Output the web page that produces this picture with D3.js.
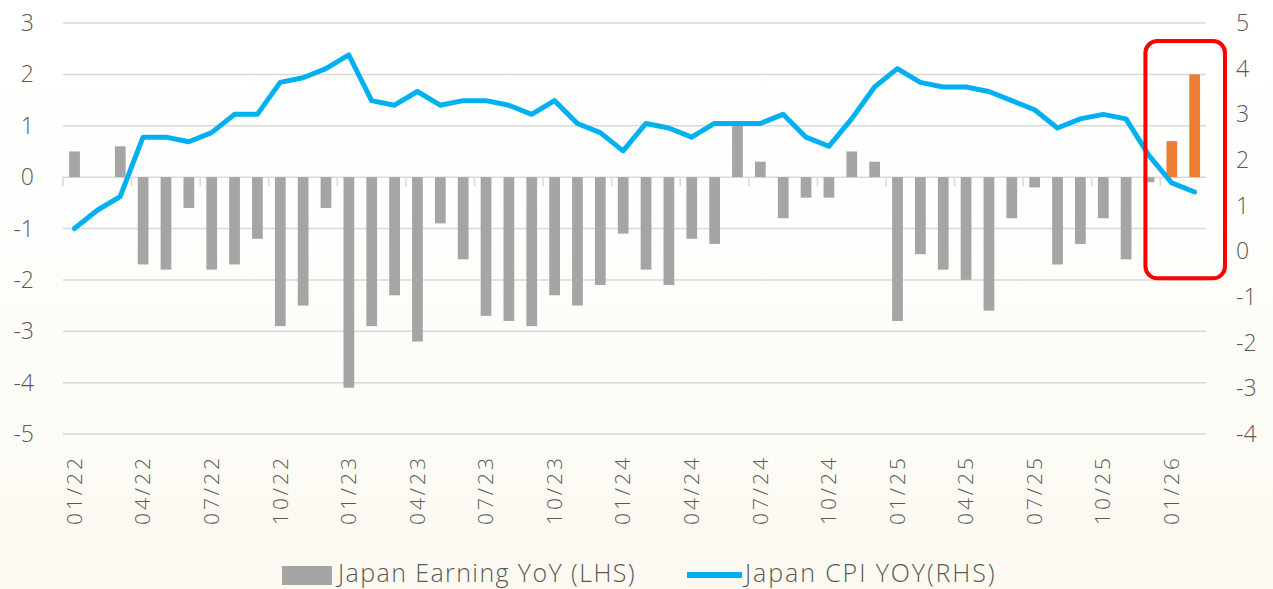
<!DOCTYPE html>
<html>
<head>
<meta charset="utf-8">
<script src="https://cdn.jsdelivr.net/npm/d3@7"></script>
<style>
	html, body { margin: 0; padding: 0; background: #ffffff; }
	#chartDiv { width: 1273px; height: 589px; }
	text { font-family: "Open Sans", "Liberation Sans", sans-serif; font-weight: 300; fill: #595959; }
</style>
</head>
<body>
<div id="chartDiv"></div>
<script>
// monthly categories, 01/22 .. 02/26
var months = [
	"01/22","02/22","03/22","04/22","05/22","06/22","07/22","08/22","09/22","10/22","11/22","12/22",
	"01/23","02/23","03/23","04/23","05/23","06/23","07/23","08/23","09/23","10/23","11/23","12/23",
	"01/24","02/24","03/24","04/24","05/24","06/24","07/24","08/24","09/24","10/24","11/24","12/24",
	"01/25","02/25","03/25","04/25","05/25","06/25","07/25","08/25","09/25","10/25","11/25","12/25",
	"01/26","02/26"
];

// Japan Earning YoY (LHS)
var earningYoY = [
	0.5, 0, 0.6, -1.7, -1.8, -0.6, -1.8, -1.7, -1.2, -2.9, -2.5, -0.6,
	-4.1, -2.9, -2.3, -3.2, -0.9, -1.6, -2.7, -2.8, -2.9, -2.3, -2.5, -2.1,
	-1.1, -1.8, -2.1, -1.2, -1.3, 1.0, 0.3, -0.8, -0.4, -0.4, 0.5, 0.3,
	-2.8, -1.5, -1.8, -2.0, -2.6, -0.8, -0.2, -1.7, -1.3, -0.8, -1.6, -0.1,
	0.7, 2.0
];

// Japan CPI YOY (RHS)
var cpiYoY = [
	0.5, 0.9, 1.2, 2.5, 2.5, 2.4, 2.6, 3.0, 3.0, 3.7, 3.8, 4.0,
	4.3, 3.3, 3.2, 3.5, 3.2, 3.3, 3.3, 3.2, 3.0, 3.3, 2.8, 2.6,
	2.2, 2.8, 2.7, 2.5, 2.8, 2.8, 2.8, 3.0, 2.5, 2.3, 2.9, 3.6,
	4.0, 3.7, 3.6, 3.6, 3.5, 3.3, 3.1, 2.7, 2.9, 3.0, 2.9, 2.1,
	1.5, 1.3
];

// latest prints, highlighted in orange and boxed
var highlightMonths = ["01/26", "02/26"];
var boxMonths = ["12/25", "02/26"];
var boxRange = [2.65, -1.97];

var xTickLabels = ["01/22","04/22","07/22","10/22","01/23","04/23","07/23","10/23",
	"01/24","04/24","07/24","10/24","01/25","04/25","07/25","10/25","01/26"];
var leftTicks = [3, 2, 1, 0, -1, -2, -3, -4, -5];
var rightTicks = [5, 4, 3, 2, 1, 0, -1, -2, -3, -4];

;(function() {

	var width = 1273;
	var height = 589;
	var margin = { top: 23, right: 67, bottom: 155, left: 63 };

	var grey = "#a5a5a5";
	var orange = "#ed7d31";
	var blue = "#00b0f0";
	var gridColor = "#d9d9d9";

	var chart, xScale, yLeft, yRight;

	init();

	function init() {
		chart = d3.select("#chartDiv").append("svg")
			.attr("width", width)
			.attr("height", height);

		drawBackground();
		createScales();
		drawGrid();
		drawBars();
		drawLine();
		drawBox();
		drawAxisLabels();
		drawLegend();
	}

	function drawBackground() {
		var grad = chart.append("defs").append("linearGradient")
			.attr("id", "bg").attr("x1", 0).attr("y1", 0).attr("x2", 0).attr("y2", 1);
		grad.append("stop").attr("offset", "0%").attr("stop-color", "#ffffff");
		grad.append("stop").attr("offset", "35%").attr("stop-color", "#fefefc");
		grad.append("stop").attr("offset", "100%").attr("stop-color", "#fcf9f1");
		chart.append("rect")
			.attr("width", width).attr("height", height)
			.attr("fill", "url(#bg)");
	}

	function createScales() {
		xScale = d3.scaleBand()
			.domain(months)
			.range([margin.left, width - margin.right])
			.padding(0);

		yLeft = d3.scaleLinear()
			.domain([-5, 3])
			.range([height - margin.bottom, margin.top]);

		yRight = d3.scaleLinear()
			.domain([-4, 5])
			.range([height - margin.bottom, margin.top]);
	}

	function drawGrid() {
		chart.append("g").selectAll("line")
			.data(leftTicks)
			.enter().append("line")
				.attr("x1", margin.left)
				.attr("x2", width - margin.right)
				.attr("y1", function(d) { return yLeft(d); })
				.attr("y2", function(d) { return yLeft(d); })
				.style("stroke", gridColor)
				.style("stroke-width", 1.5);

		// small ticks hanging under the zero line, one per quarter
		var quarterStarts = months.filter(function(m, i) { return i % 3 === 0; });
		chart.append("g").selectAll("line")
			.data(quarterStarts)
			.enter().append("line")
				.attr("x1", function(d) { return xScale(d); })
				.attr("x2", function(d) { return xScale(d); })
				.attr("y1", yLeft(0))
				.attr("y2", yLeft(0) + 9)
				.style("stroke", gridColor)
				.style("stroke-width", 1.5);
	}

	function drawBars() {
		var bw = xScale.bandwidth();
		chart.append("g").selectAll("rect")
			.data(earningYoY)
			.enter().append("rect")
				.attr("x", function(d, i) { return xScale(months[i]) + bw * 0.27; })
				.attr("width", bw * 0.47)
				.attr("y", function(d) { return yLeft(Math.max(0, d)); })
				.attr("height", function(d) { return Math.abs(yLeft(d) - yLeft(0)); })
				.style("fill", function(d, i) {
					return highlightMonths.indexOf(months[i]) >= 0 ? orange : grey;
				});
	}

	function drawLine() {
		var line = d3.line()
			.x(function(d, i) { return xScale(months[i]) + xScale.bandwidth() / 2; })
			.y(function(d) { return yRight(d); });

		chart.append("path")
			.datum(cpiYoY)
			.attr("d", line)
			.style("fill", "none")
			.style("stroke", blue)
			.style("stroke-width", 5)
			.style("stroke-linejoin", "round")
			.style("stroke-linecap", "round");
	}

	function drawBox() {
		var bw = xScale.bandwidth();
		var x0 = xScale(boxMonths[0]) + bw * 0.35;
		var x1 = xScale(boxMonths[1]) + bw + 19;
		chart.append("rect")
			.attr("x", x0)
			.attr("y", yLeft(boxRange[0]))
			.attr("width", x1 - x0)
			.attr("height", yLeft(boxRange[1]) - yLeft(boxRange[0]))
			.attr("rx", 12)
			.style("fill", "none")
			.style("stroke", "#ff0000")
			.style("stroke-width", 4);
	}

	function drawAxisLabels() {
		chart.append("g").selectAll("text")
			.data(leftTicks)
			.enter().append("text")
				.attr("x", 34)
				.attr("y", function(d) { return yLeft(d); })
				.attr("dy", "0.35em")
				.attr("text-anchor", "end")
				.style("font-size", "23px")
				.text(function(d) { return d; });

		chart.append("g").selectAll("text")
			.data(rightTicks)
			.enter().append("text")
				.attr("x", 1236)
				.attr("y", function(d) { return yRight(d); })
				.attr("dy", "0.35em")
				.attr("text-anchor", "start")
				.style("font-size", "23px")
				.text(function(d) { return d; });

		chart.append("g").selectAll("text")
			.data(xTickLabels)
			.enter().append("text")
				.attr("text-anchor", "end")
				.attr("dy", "0.35em")
				.attr("transform", function(d) {
					return "translate(" + (xScale(d) + xScale.bandwidth() / 2) + ",455) rotate(-90)";
				})
				.style("font-size", "21px")
				.style("letter-spacing", "3px")
				.text(function(d) { return d; });
	}

	function drawLegend() {
		var g = chart.append("g");
		g.append("rect")
			.attr("x", 282).attr("y", 566)
			.attr("width", 50).attr("height", 19)
			.style("fill", grey);
		g.append("text")
			.attr("x", 338).attr("y", 582)
			.style("font-size", "25px")
			.style("letter-spacing", "1.4px")
			.text("Japan Earning YoY (LHS)");

		g.append("line")
			.attr("x1", 687).attr("x2", 742)
			.attr("y1", 575).attr("y2", 575)
			.style("stroke", blue)
			.style("stroke-width", 6);
		g.append("text")
			.attr("x", 745).attr("y", 582)
			.style("font-size", "25px")
			.style("letter-spacing", "1.9px")
			.text("Japan CPI YOY(RHS)");
	}

})();
</script>
</body>
</html>
